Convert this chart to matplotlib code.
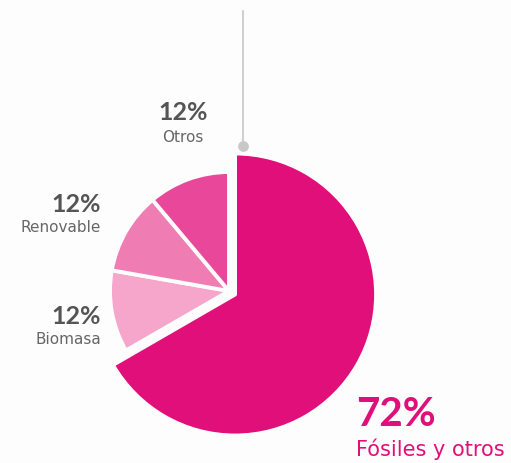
import matplotlib.pyplot as plt

plt.rcParams['font.family'] = ['DejaVu Sans']

# datos del grafico
categorias = ['Fósiles y otros', 'Biomasa', 'Renovable', 'Otros']
valores = [72, 12, 12, 12]
etiquetas = ['72%', '12%', '12%', '12%']
colores = ['#E00F7A', '#F5A6CA', '#EF7DB3', '#E9489A']

bg = '#FDFDFD'
W, H = 511, 463

fig = plt.figure(figsize=(W / 100, H / 100), dpi=100, facecolor=bg)
ax = fig.add_axes([0, 0, 1, 1])

cx, cy = 229, H - 291
r_small = 119
r_big = 141

wedges, _ = ax.pie(valores, colors=colores, radius=r_small, center=(cx, cy),
                   startangle=90, counterclock=False, explode=[7, 0, 0, 0],
                   wedgeprops=dict(edgecolor=bg, linewidth=2.8, joinstyle='round'),
                   frame=True)
wedges[0].set_radius(r_big)
ax.set_xlim(0, W)
ax.set_ylim(0, H)
ax.set_aspect('equal')
ax.axis('off')

# linea guia y punto
ax.plot([243, 243], [H - 11, H - 146], color='#C8C8C8', lw=1.2, zorder=1)
ax.scatter([243], [H - 146], s=45, color='#C8C8C8', zorder=2)

gris = '#555555'
gris2 = '#666666'
pct_font = ['Lato', 'DejaVu Sans']
# etiquetas
ax.text(183, H - 113, etiquetas[3], ha='center', va='center', fontsize=18,
        fontweight='bold', color=gris, family=pct_font)
ax.text(183, H - 137, categorias[3], ha='center', va='center', fontsize=11, color=gris2)

ax.text(101, H - 204, etiquetas[2], ha='right', va='center', fontsize=18,
        fontweight='bold', color=gris, family=pct_font)
ax.text(101, H - 227, categorias[2], ha='right', va='center', fontsize=11, color=gris2)

ax.text(101, H - 316, etiquetas[1], ha='right', va='center', fontsize=18,
        fontweight='bold', color=gris, family=pct_font)
ax.text(101, H - 339, categorias[1], ha='right', va='center', fontsize=11, color=gris2)

ax.text(356, H - 414, etiquetas[0], ha='left', va='center', fontsize=29,
        fontweight='bold', color='#E00F7A', family=pct_font)
ax.text(356, H - 449, categorias[0], ha='left', va='center', fontsize=15, color='#E00F7A')

fig.savefig('out.png', dpi=100, facecolor=bg)
